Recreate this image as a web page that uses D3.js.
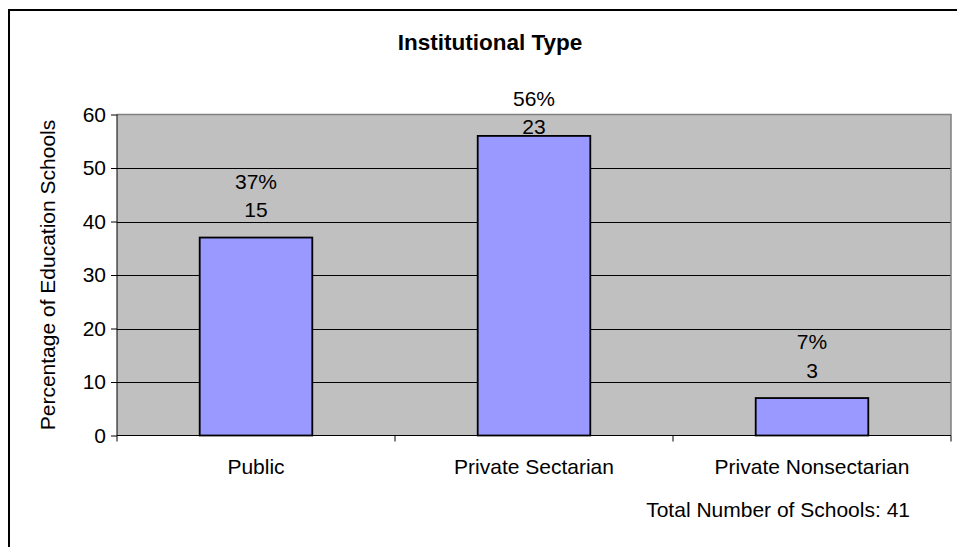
<!DOCTYPE html>
<html>
<head>
<meta charset="utf-8">
<script src="https://cdn.jsdelivr.net/npm/d3@7"></script>
<style>
  html, body { margin: 0; padding: 0; background: #fff; }
  svg { display: block; }
  text { font-family: "Liberation Sans", Arial, sans-serif; fill: #000; }
</style>
</head>
<body>
<svg id="chart" width="957" height="547"></svg>
<script>
// Institutional type of education schools
const categories = ["Public", "Private Sectarian", "Private Nonsectarian"];
const percentages = [37, 56, 7];
const counts = [15, 23, 3];
const yTicks = [0, 10, 20, 30, 40, 50, 60];
const totalSchools = 41;

const W = 957, H = 547;
const plot = { left: 117, right: 951, top: 114.5, bottom: 435.5 };
const fontSize = 21;

const svg = d3.select("#chart");

// outer chart frame
svg.append("rect")
  .attr("x", 9).attr("y", 10)
  .attr("width", W + 20).attr("height", H + 20)
  .attr("fill", "#fff").attr("stroke", "#000").attr("stroke-width", 2);

const x = d3.scaleBand().domain(categories).range([plot.left, plot.right]).padding(0);
const y = d3.scaleLinear().domain([0, 60]).range([plot.bottom, plot.top]);
const barW = x.bandwidth() * 0.405;

// plot background
svg.append("rect")
  .attr("x", plot.left).attr("y", plot.top)
  .attr("width", plot.right - plot.left).attr("height", plot.bottom - plot.top)
  .attr("fill", "#c0c0c0");

// gridlines
svg.append("g")
  .selectAll("line")
  .data(yTicks.filter(t => t > 0 && t < 60))
  .join("line")
  .attr("x1", plot.left).attr("x2", plot.right)
  .attr("y1", d => Math.round(y(d)) + 0.5).attr("y2", d => Math.round(y(d)) + 0.5)
  .attr("stroke", "#000").attr("stroke-width", 1);

// plot border (top and right)
svg.append("path")
  .attr("d", `M${plot.left},${plot.top}H${plot.right}V${plot.bottom}`)
  .attr("fill", "none").attr("stroke", "#808080").attr("stroke-width", 1.5);

// bars
svg.append("g")
  .selectAll("rect")
  .data(categories)
  .join("rect")
  .attr("x", (d) => x(d) + (x.bandwidth() - barW) / 2)
  .attr("y", (d, i) => y(percentages[i]))
  .attr("width", barW)
  .attr("height", (d, i) => y(0) - y(percentages[i]))
  .attr("fill", "#9999ff")
  .attr("stroke", "#000").attr("stroke-width", 1.8);

// y axis
const yAxis = d3.axisLeft(y).tickValues(yTicks).tickSize(6).tickPadding(5).tickFormat(d3.format("d"));
const gy = svg.append("g").attr("transform", `translate(${plot.left},0)`).call(yAxis);
gy.select(".domain").remove();
gy.selectAll("line").attr("stroke", "#000");
gy.selectAll("text").attr("font-size", fontSize).attr("font-family", "Liberation Sans, Arial, sans-serif");
gy.append("line").attr("x1", 0).attr("x2", 0).attr("y1", plot.top).attr("y2", plot.bottom + 6).attr("stroke", "#000");

// x axis with ticks at category boundaries
const boundaries = categories.map(c => x(c)).concat([plot.right]);
svg.append("line")
  .attr("x1", plot.left).attr("x2", plot.right)
  .attr("y1", plot.bottom).attr("y2", plot.bottom)
  .attr("stroke", "#000").attr("stroke-width", 1.2);
svg.append("g").selectAll("line")
  .data(boundaries.slice(1))
  .join("line")
  .attr("x1", d => d).attr("x2", d => d)
  .attr("y1", plot.bottom).attr("y2", plot.bottom + 6)
  .attr("stroke", "#000");

svg.append("g").selectAll("text")
  .data(categories)
  .join("text")
  .attr("x", d => x(d) + x.bandwidth() / 2)
  .attr("y", 474)
  .attr("text-anchor", "middle")
  .attr("font-size", fontSize)
  .text(d => d);

// data labels: percentage above count, kept inside the plot area
const labels = svg.append("g");
categories.forEach((c, i) => {
  const cx = x(c) + x.bandwidth() / 2;
  const top = y(percentages[i]);
  const countBase = Math.max(top - 20.5, plot.top + 19.5);
  labels.append("text")
    .attr("x", cx).attr("y", countBase)
    .attr("text-anchor", "middle").attr("font-size", fontSize)
    .text(counts[i]);
  labels.append("text")
    .attr("x", cx).attr("y", countBase - 28.5)
    .attr("text-anchor", "middle").attr("font-size", fontSize)
    .text(percentages[i] + "%");
});

// title
svg.append("text")
  .attr("x", 490).attr("y", 50)
  .attr("text-anchor", "middle")
  .attr("font-size", 22.5).attr("font-weight", "bold")
  .text("Institutional Type");

// y axis title
svg.append("text")
  .attr("transform", `translate(55,${(plot.top + plot.bottom) / 2}) rotate(-90)`)
  .attr("text-anchor", "middle")
  .attr("font-size", fontSize)
  .text("Percentage of Education Schools");

// footnote
svg.append("text")
  .attr("x", 910).attr("y", 517)
  .attr("text-anchor", "end")
  .attr("font-size", fontSize)
  .text("Total Number of Schools: " + totalSchools);
</script>
</body>
</html>
